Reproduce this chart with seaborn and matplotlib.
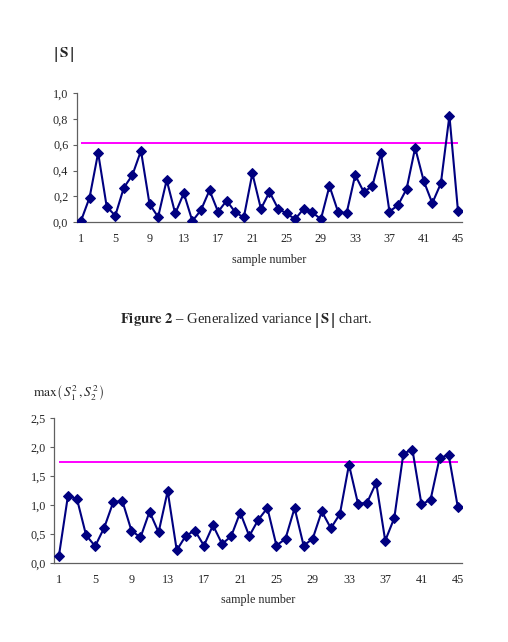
import numpy as np
import pandas as pd
import matplotlib
matplotlib.use("Agg")
import matplotlib.pyplot as plt
import seaborn as sns

sns.set_style("white")
plt.rcParams['font.family'] = ['Liberation Serif', 'DejaVu Serif']
plt.rcParams['mathtext.fontset'] = 'stix'

samples = np.arange(1, 46)

# |S| values per sample
det_s = [0.01, 0.19, 0.537, 0.12, 0.05, 0.267, 0.365, 0.553, 0.14, 0.04,
         0.326, 0.067, 0.224, 0.008, 0.093, 0.247, 0.08, 0.167, 0.077, 0.036,
         0.378, 0.103, 0.234, 0.105, 0.067, 0.023, 0.105, 0.075, 0.023, 0.28,
         0.08, 0.069, 0.365, 0.234, 0.278, 0.535, 0.082, 0.131, 0.257, 0.576,
         0.319, 0.147, 0.30, 0.825, 0.085]
ucl_s = 0.617

# max(S1^2, S2^2) values per sample
max_var = [0.12, 1.16, 1.10, 0.48, 0.29, 0.61, 1.05, 1.07, 0.56, 0.44,
           0.885, 0.53, 1.24, 0.22, 0.47, 0.56, 0.30, 0.65, 0.33, 0.46,
           0.87, 0.465, 0.747, 0.948, 0.30, 0.42, 0.948, 0.30, 0.42, 0.89,
           0.60, 0.845, 1.695, 1.02, 1.04, 1.385, 0.385, 0.776, 1.885, 1.954,
           1.01, 1.09, 1.81, 1.86, 0.97]
ucl_max = 1.747

xticks = list(range(1, 46, 4))
yticks_top = [0.0, 0.2, 0.4, 0.6, 0.8, 1.0]
ylabels_top = ["0,0", "0,2", "0,4", "0,6", "0,8", "1,0"]
yticks_bot = [0.0, 0.5, 1.0, 1.5, 2.0, 2.5]
ylabels_bot = ["0,0", "0,5", "1,0", "1,5", "2,0", "2,5"]

df = pd.DataFrame({"sample": samples, "det": det_s, "maxvar": max_var})

navy = "#000080"
magenta = "#FF00FF"

fig = plt.figure(figsize=(5.08, 6.42), dpi=100)
ax1 = fig.add_axes([0.151, 0.654, 0.759, 0.201])
ax2 = fig.add_axes([0.107, 0.123, 0.803, 0.226])


def style(ax, col, yt, yl, ucl):
    ax.hlines(ucl, 1, 45, color=magenta, lw=1.4, zorder=1)
    sns.lineplot(data=df, x="sample", y=col, ax=ax, color=navy, lw=1.5,
                 marker="D", markersize=5.5, markeredgecolor=navy, zorder=3)
    ax.set_xlim(0.5, 45.5)
    ax.set_ylim(yt[0], yt[-1])
    ax.set_xticks(xticks)
    ax.set_xticklabels([str(t) for t in xticks], fontsize=8.7)
    ax.set_yticks(yt)
    ax.set_yticklabels(yl, fontsize=8.7)
    ax.tick_params(axis="x", length=0, pad=8)
    ax.tick_params(axis="y", length=3, width=0.8, color="#606060", pad=3, left=True)
    for s in ["top", "right"]:
        ax.spines[s].set_visible(False)
    for s in ["left", "bottom"]:
        ax.spines[s].set_color("#606060")
        ax.spines[s].set_linewidth(0.9)
    ax.set_xlabel("sample number", fontsize=8.7, labelpad=6)
    ax.set_ylabel("")


style(ax1, "det", yticks_top, ylabels_top, ucl_s)
style(ax2, "maxvar", yticks_bot, ylabels_bot, ucl_max)

abs_s = r"\left|\,\mathbf{S}^{\,}_{\,}\right|"
fig.text(0.104, 1 - 55 / 642, "$" + abs_s + "$", fontsize=11, va="center", ha="left")
fig.text(0.065, 1 - 392 / 642, r"$\max\left(\,S_1^2\,,S_2^2\,\right)$", fontsize=9.7,
         va="center", ha="left")
fig.text(0.485, 1 - 321 / 642,
         r"$\mathbf{Figure\ 2}$ – Generalized variance $" + abs_s + "$ chart.",
         fontsize=10.5, va="center", ha="center")

fig.savefig("out.png", dpi=100)
